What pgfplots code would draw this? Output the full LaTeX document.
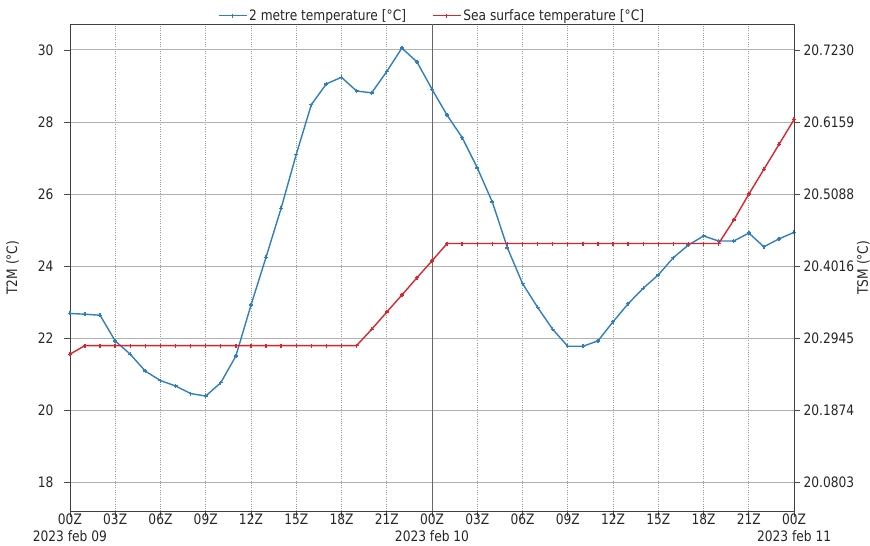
\documentclass[border=0pt]{standalone}
\usepackage{fontspec}
\setmainfont{DejaVu Sans}[FakeStretch=0.85]
\usepackage{pgfplots}
\pgfplotsset{compat=1.18}

\definecolor{tblue}{HTML}{2F7FBF}
\definecolor{tred}{HTML}{D8262C}
\newcommand{\fs}{\fontsize{14.4bp}{17bp}\selectfont}

\pgfplotsset{
  every axis/.append style={
    width=725bp, height=488bp, scale only axis,
    xmin=0, xmax=48,
    tick align=outside, major tick length=6bp,
    /pgf/number format/assume math mode=true,
    every tick/.style={black!70, line width=0.8bp},
    axis line style={black!75, line width=0.8bp},
    tick label style={font=\fs, black!85},
    label style={font=\fs, black!85},
  },
}

\begin{document}
\begin{tikzpicture}
% left axis: 2 m temperature
\begin{axis}[
  ymin=17.2, ymax=30.72,
  ytick={18,20,...,30},
  xtick={0,3,...,48},
  xticklabels={{00Z\\2023 feb 09},03Z,06Z,09Z,12Z,15Z,18Z,21Z,{00Z\\2023 feb 10},03Z,06Z,09Z,12Z,15Z,18Z,21Z,{00Z\\2023 feb 11}},
  xticklabel style={align=center, yshift=5bp, inner sep=1bp},
  yticklabel style={xshift=-7bp},
  ytick pos=left, xtick pos=bottom,
  xmajorgrids, ymajorgrids,
  x grid style={black!40, line width=0.7bp, dash pattern=on 1bp off 1.3bp},
  y grid style={black!30, line width=1bp},
  ylabel={T2M (°C)},
  ylabel style={at={(axis description cs:-0.079,0.5)}, anchor=center},
]
\coordinate (sw) at (rel axis cs:0,0);
\coordinate (ne) at (rel axis cs:1,1);
\draw[black!60, line width=1bp] (axis cs:24,17.2) -- (axis cs:24,30.72);
\addplot[tblue, line width=1.4bp, mark=+, mark size=2bp, mark options={solid}] coordinates {
  (0,22.69) (1,22.67) (2,22.64) (3,21.93) (4,21.56) (5,21.09) (6,20.83) (7,20.68)
  (8,20.47) (9,20.40) (10,20.77) (11,21.51) (12,22.92) (13,24.25) (14,25.61) (15,27.10)
  (16,28.48) (17,29.06) (18,29.24) (19,28.86) (20,28.81) (21,29.40) (22,30.05) (23,29.67)
  (24,28.91) (25,28.19) (26,27.57) (27,26.73) (28,25.78) (29,24.51) (30,23.52) (31,22.86)
  (32,22.25) (33,21.78) (34,21.78) (35,21.93) (36,22.46) (37,22.96) (38,23.39) (39,23.76)
  (40,24.24) (41,24.59) (42,24.84) (43,24.70) (44,24.70) (45,24.92) (46,24.54) (47,24.76)
  (48,24.94)
};
\end{axis}

% right axis: sea surface temperature
\begin{axis}[
  ymin=20.03745, ymax=20.76156,
  axis y line*=right, axis x line=none,
  ytick={20.0803,20.18742,20.29453,20.40165,20.50877,20.61588,20.7230},
  yticklabels={20.0803,20.1874,20.2945,20.4016,20.5088,20.6159,20.7230},
  yticklabel style={xshift=0bp},
  ylabel={TSM (°C)},
  ylabel style={at={(axis description cs:1.0955,0.5)}, anchor=center},
  legend columns=2,
  legend style={at={(0.5,1)}, anchor=south, yshift=-1bp, draw=none, fill=none,
    font=\fs, black!85, inner sep=1bp,
    /tikz/every even column/.append style={column sep=24bp}},
  legend image code/.code={\draw[mark repeat=2,mark phase=2,#1] plot coordinates {(0bp,0bp)(14bp,0bp)(28bp,0bp)};},
]
\addlegendimage{tblue, line width=1.2bp, mark=+, mark size=2bp}
\addlegendentry{2 metre temperature [°C]}
\addplot[tred, line width=1.4bp, mark=+, mark size=2bp, mark options={solid}] coordinates {
  (0,20.2710) (1,20.2838) (2,20.2838) (3,20.2838) (4,20.2838) (5,20.2838) (6,20.2838)
  (7,20.2838) (8,20.2838) (9,20.2838) (10,20.2838) (11,20.2838) (12,20.2838) (13,20.2838)
  (14,20.2838) (15,20.2838) (16,20.2838) (17,20.2838) (18,20.2838) (19,20.2838)
  (20,20.3079) (21,20.3336) (22,20.3588) (23,20.3845) (24,20.4097)
  (25,20.4354) (26,20.4354) (27,20.4354) (28,20.4354) (29,20.4354) (30,20.4354)
  (31,20.4354) (32,20.4354) (33,20.4354) (34,20.4354) (35,20.4354) (36,20.4354)
  (37,20.4354) (38,20.4354) (39,20.4354) (40,20.4354) (41,20.4354) (42,20.4354)
  (43,20.4354) (44,20.4702) (45,20.5088) (46,20.5457) (47,20.5827) (48,20.6197)
};
\addlegendentry{Sea surface temperature [°C]}
\end{axis}

\pgfresetboundingbox
\path ([shift={(-70bp,-34bp)}]sw) rectangle ([shift={(76bp,24bp)}]ne);
\end{tikzpicture}
\end{document}
